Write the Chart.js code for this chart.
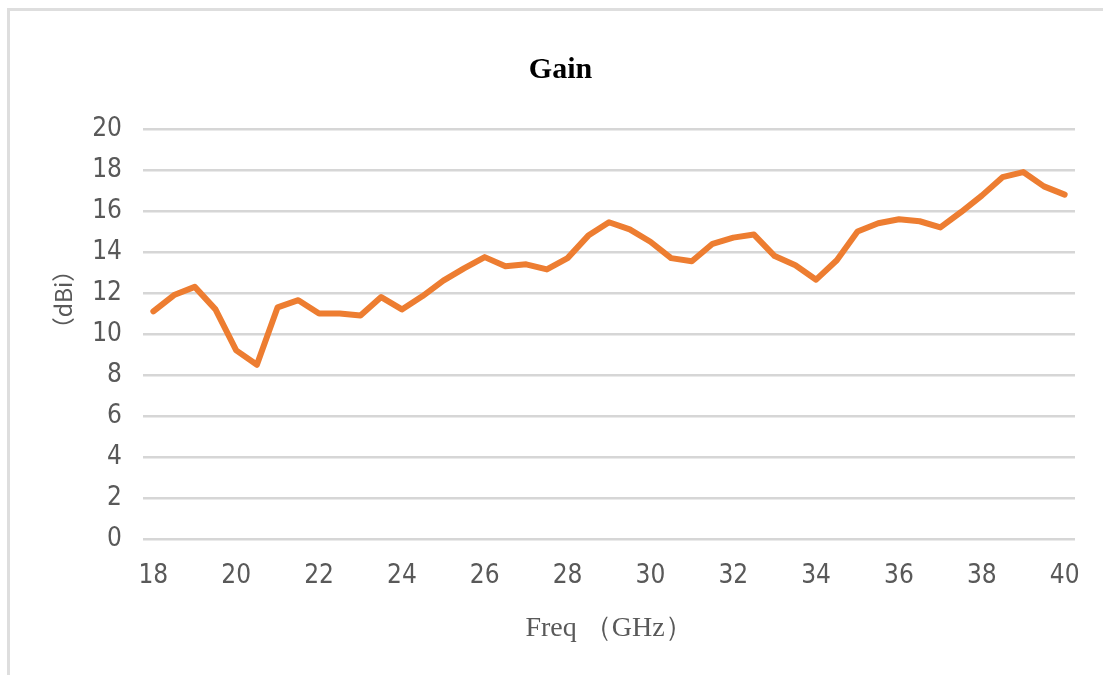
<!DOCTYPE html>
<html>
<head>
<meta charset="utf-8">
<script src="https://cdn.jsdelivr.net/npm/chart.js@4/dist/chart.umd.min.js"></script>
<style>
  html, body { margin: 0; padding: 0; background: #ffffff; }
  #wrap { position: relative; width: 1103px; height: 675px; overflow: hidden; background: #fff; }
  #frame { position: absolute; left: 7px; top: 8px; width: 1300px; height: 900px; border-left: 3px solid #dedede; border-top: 3px solid #dedede; box-sizing: border-box; }
  canvas { position: absolute; left: 0; top: 0; }
</style>
</head>
<body>
<div id="wrap">
  <div id="frame"></div>
  <canvas id="c" width="1103" height="675"></canvas>
</div>
<script>
const freqLabels = ['18','18.5','19','19.5','20','20.5','21','21.5','22','22.5','23','23.5','24','24.5','25','25.5','26','26.5','27','27.5','28','28.5','29','29.5','30','30.5','31','31.5','32','32.5','33','33.5','34','34.5','35','35.5','36','36.5','37','37.5','38','38.5','39','39.5','40'];
const gainValues = [11.1,11.9,12.3,11.2,9.2,8.5,11.3,11.65,11.0,11.0,10.9,11.8,11.2,11.85,12.6,13.2,13.75,13.3,13.4,13.15,13.7,14.8,15.45,15.1,14.5,13.7,13.55,14.4,14.7,14.85,13.8,13.35,12.65,13.6,15.0,15.4,15.6,15.5,15.2,15.95,16.75,17.65,17.9,17.2,16.8];
const yTicks = [0,2,4,6,8,10,12,14,16,18,20];
const shownXLabels = ['18','20','22','24','26','28','30','32','34','36','38','40'];

const tickFont = { family: "'Liberation Sans Narrow', 'DejaVu Sans Condensed', 'Liberation Sans', sans-serif", size: 26 };
const grey = '#595959';

new Chart(document.getElementById('c'), {
  type: 'line',
  data: {
    labels: freqLabels,
    datasets: [{
      label: 'Gain',
      data: gainValues,
      borderColor: '#ED7D31',
      backgroundColor: '#ED7D31',
      borderWidth: 6,
      pointRadius: 0,
      tension: 0,
      borderJoinStyle: 'round',
      borderCapStyle: 'round',
      fill: false
    }]
  },
  options: {
    responsive: false,
    animation: false,
    layout: { padding: { left: 46, right: 28, top: 0, bottom: 0 } },
    plugins: {
      legend: { display: false },
      tooltip: { enabled: false },
      title: {
        display: true,
        text: 'Gain',
        color: '#000000',
        font: { family: "'Liberation Serif', serif", size: 30, weight: 'bold' },
        padding: { top: 52, bottom: 41 }
      }
    },
    scales: {
      x: {
        type: 'category',
        offset: true,
        grid: { display: false, drawTicks: false },
        border: { display: false },
        ticks: {
          autoSkip: false,
          maxRotation: 0,
          padding: 22,
          color: grey,
          font: tickFont,
          callback: function(value, index) {
            const l = this.getLabelForValue(value);
            return shownXLabels.includes(l) ? l : '';
          }
        },
        title: {
          display: true,
          text: 'Freq （GHz）',
          color: grey,
          font: { family: "'Liberation Serif', serif", size: 28 },
          padding: { top: 30, bottom: 30 }
        },
        afterFit: function(s) { s.height = 136; }
      },
      y: {
        min: 0,
        max: 20,
        afterBuildTicks: function(s) { s.ticks = yTicks.map(v => ({ value: v })); },
        grid: { color: '#d6d6d6', lineWidth: 2.5, drawTicks: false },
        border: { display: false },
        ticks: {
          padding: 21,
          color: grey,
          font: tickFont
        },
        title: {
          display: true,
          text: '\u2002\u2002\u2002\u2002\u2002\u2002（dBi）',
          color: grey,
          font: { family: "'Noto Sans CJK SC', 'DejaVu Sans', sans-serif", size: 23 },
          padding: { top: 3, bottom: 3 }
        },
        afterFit: function(s) { s.width = 97; }
      }
    }
  }
});
</script>
</body>
</html>
